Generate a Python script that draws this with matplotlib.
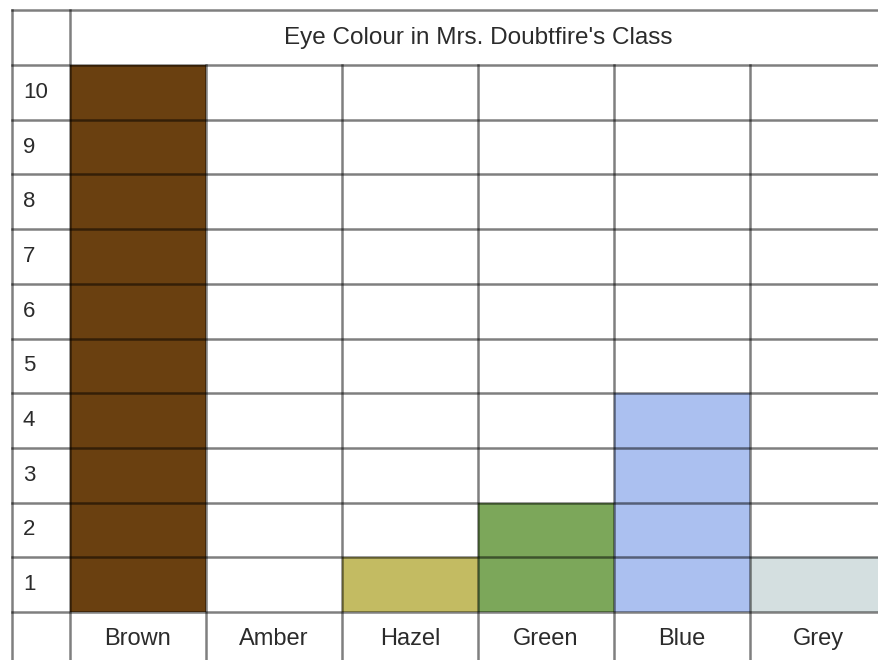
import matplotlib.pyplot as plt

plt.rcParams['font.family'] = ['Liberation Sans', 'DejaVu Sans']

# Data
categories = ["Brown", "Amber", "Hazel", "Green", "Blue", "Grey"]
counts = [10, 0, 1, 2, 4, 1]
bar_colours = ["#6a4010", "#ffffff", "#c3bb62", "#7ca75a", "#abc0f0", "#d4dfe0"]
row_labels = [1, 2, 3, 4, 5, 6, 7, 8, 9, 10]
title = "Eye Colour in Mrs. Doubtfire's Class"

# pixel geometry of the table (used only to set the axis window)
W, H = 879, 660
col0_px, col_w_px = 70, 136
base_px, row_h_px = 612, 54.7
left_px = 12

fig = plt.figure(figsize=(W / 100, H / 100), dpi=100)
ax = fig.add_axes([0, 0, 1, 1])
ax.set_xlim(-col0_px / col_w_px, (W - col0_px) / col_w_px)
ax.set_ylim(-(H - base_px) / row_h_px, base_px / row_h_px)
ax.axis('off')

n_cols = len(categories)
n_rows = len(row_labels)
left_x = (left_px - col0_px) / col_w_px

# Bars
ax.bar(range(n_cols), counts, width=1, align='edge', color=bar_colours,
       edgecolor='none', zorder=1)

# Grid lines
line_kw = dict(color='#000000', alpha=0.5, lw=1.8, zorder=3)
for y in range(0, n_rows + 2):
    ax.plot([left_x, n_cols + 0.5], [y, y], **line_kw)
ax.plot([left_x, left_x], [-2, n_rows + 1], **line_kw)
ax.plot([0, 0], [-2, n_rows + 1], **line_kw)
for x in range(1, n_cols + 1):
    ax.plot([x, x], [-2, n_rows], **line_kw)

txt_col = '#2b2b2b'

# Row numbers
for r in row_labels:
    ax.text(left_x + 0.08, r - 0.5, str(r), ha='left', va='center',
            fontsize=16, color=txt_col, zorder=4)

# Category labels
for i, c in enumerate(categories):
    ax.text(i + 0.5, -0.5, c, ha='center', va='center', fontsize=17,
            color=txt_col, zorder=4)

# Title in merged header
ax.text(n_cols / 2, n_rows + 0.5, title, ha='center', va='center',
        fontsize=17.5, color=txt_col, zorder=4)

plt.savefig("out.png", dpi=100)
